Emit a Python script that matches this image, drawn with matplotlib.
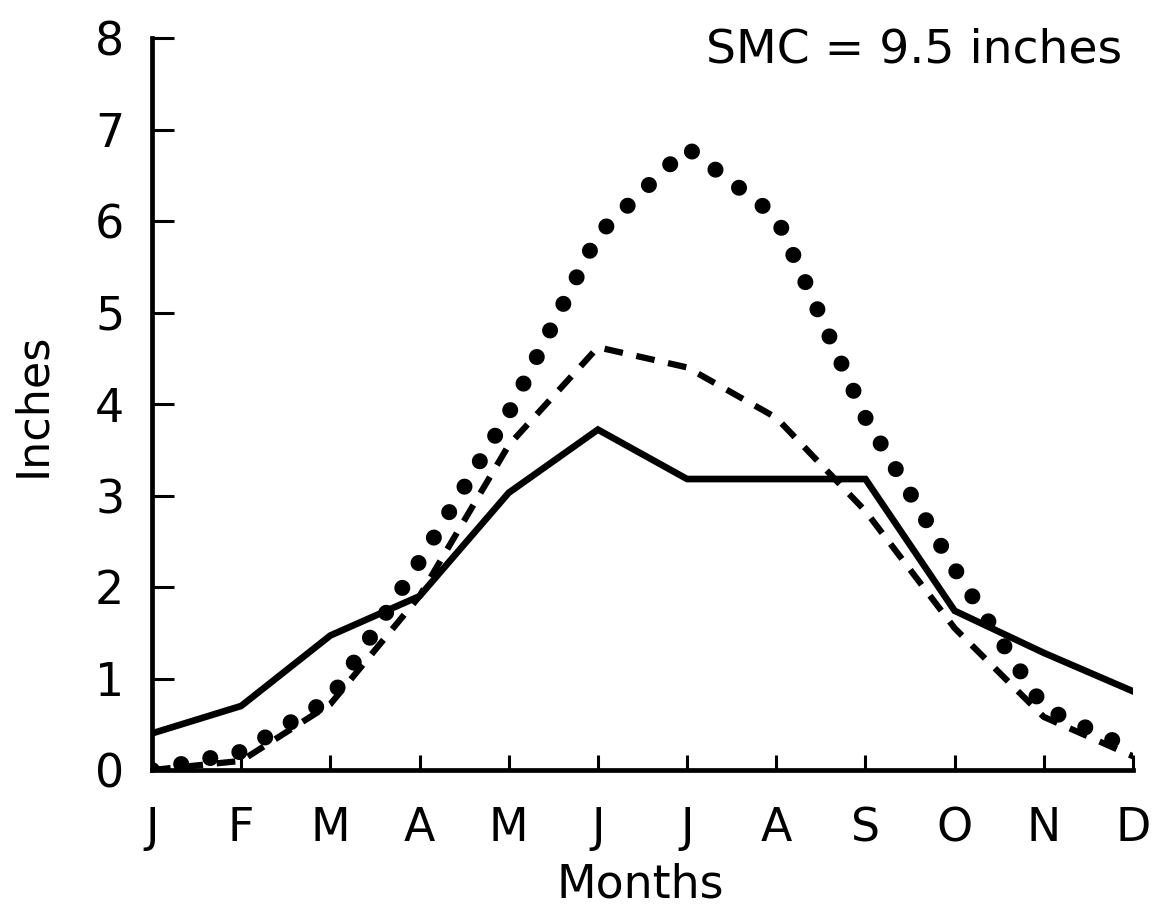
import matplotlib
matplotlib.use("Agg")
import matplotlib.pyplot as plt

months = ["J", "F", "M", "A", "M", "J", "J", "A", "S", "O", "N", "D"]
y_ticks = [0, 1, 2, 3, 4, 5, 6, 7, 8]

# solid line
actual_et = [0.40, 0.70, 1.47, 1.90, 3.03, 3.72, 3.18, 3.18, 3.18, 1.74, 1.28, 0.86]
# dashed line
dashed_series = [0.00, 0.10, 0.72, 1.90, 3.55, 4.62, 4.40, 3.85, 2.83, 1.55, 0.58, 0.15]
# dotted line
dotted_series = [0.00, 0.20, 0.78, 2.28, 3.90, 5.85, 6.80, 6.05, 3.85, 2.20, 0.68, 0.22]

annotation = "SMC = 9.5 inches"

FONT = "DejaVu Sans"
plt.rcParams["font.family"] = [FONT]
FS = 33

W, H = 1157, 907
fig = plt.figure(figsize=(W / 100, H / 100), dpi=100)
left, right = 152 / W, 1133 / W
bottom, top = (H - 770) / H, (H - 38) / H
ax = fig.add_axes([left, bottom, right - left, top - bottom])

x = list(range(len(months)))

ax.plot(x, dotted_series, color="black", linewidth=11.5,
        linestyle=(0, (0.01, 1.85)), dash_capstyle="round")
ax.plot(x, dashed_series, color="black", linewidth=4.5,
        linestyle=(0, (3.0, 2.2)), dash_capstyle="butt")
ax.plot(x, actual_et, color="black", linewidth=4.8, solid_joinstyle="miter")

ax.set_xlim(0, len(months) - 1)
ax.set_ylim(0, 8)
for s in ["top", "right"]:
    ax.spines[s].set_visible(False)
for s in ["left", "bottom"]:
    ax.spines[s].set_linewidth(3.4)
    ax.spines[s].set_capstyle("projecting")

ax.set_xticks(x)
ax.set_xticklabels(months, fontsize=FS)
ax.set_yticks(y_ticks)
ax.set_yticklabels([str(v) for v in y_ticks], fontsize=FS)
ax.tick_params(axis="x", direction="in", length=11, width=2.2, pad=26)
ax.tick_params(axis="y", direction="in", length=16, width=2.2, pad=20)
ax.xaxis.get_major_ticks()[0].tick1line.set_visible(False)
ax.yaxis.get_major_ticks()[0].tick1line.set_visible(False)

fig.text(640 / W, 1 - 885 / H, "Months", fontsize=FS, ha="center", va="center")
fig.text(33 / W, 1 - 405 / H, "Inches", fontsize=FS - 1, ha="center", va="center",
         rotation=90)
fig.text(1122 / W, 1 - 50 / H, annotation, fontsize=FS + 1, ha="right", va="center")

fig.savefig("out.png", dpi=100, facecolor="white")
